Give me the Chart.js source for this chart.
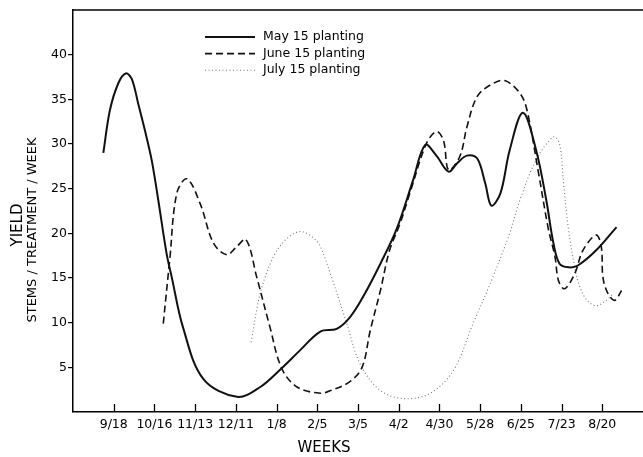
<!DOCTYPE html>
<html>
<head>
<meta charset="utf-8">
<script src="https://cdn.jsdelivr.net/npm/chart.js@4.4.1/dist/chart.umd.min.js"></script>
<style>
  html, body { margin: 0; padding: 0; background: #fff; }
  #wrap { width: 643px; height: 457px; position: relative; }
</style>
</head>
<body>
<div id="wrap"><canvas id="yieldChart"></canvas></div>
<script>
// x is in weeks, 9/18 = week 4
const tickWeeks = [4, 8, 12, 16, 20, 24, 28, 32, 36, 40, 44, 48, 52];
const tickLabels = ["9/18", "10/16", "11/13", "12/11", "1/8", "2/5", "3/5", "4/2", "4/30", "5/28", "6/25", "7/23", "8/20"];
const yTicks = [5, 10, 15, 20, 25, 30, 35, 40];

const mayWeeks = [2.98, 3.63, 4.45, 5.18, 5.77, 6.41, 7.07, 7.73, 8.38, 9.2, 9.7, 10.8, 12.8, 16.1, 18.4, 20.5, 22.3, 24.3, 25.9, 27.2, 28.5, 30.2, 31.8, 33.4, 34.6, 35.7, 36.9, 37.7, 38.7, 39.7, 40.5, 41.1, 42.0, 42.9, 44.2, 45.5, 46.5, 47.2, 47.8, 48.7, 49.6, 51.4, 53.4];
const mayYield = [29.0, 33.8, 36.8, 37.9, 37.3, 34.5, 31.5, 28.2, 23.7, 17.7, 15.1, 9.5, 3.7, 1.7, 2.8, 4.9, 6.9, 9.0, 9.3, 10.6, 12.9, 16.6, 20.5, 25.9, 29.9, 28.7, 26.9, 27.8, 28.7, 28.4, 25.6, 23.1, 24.5, 29.3, 33.5, 29.3, 23.7, 18.9, 16.6, 16.2, 16.4, 18.1, 20.7];

const juneWeeks = [8.87, 9.5, 10.2, 11.2, 12.5, 13.8, 15.1, 16.0, 17.0, 18.05, 19.35, 20.5, 22.0, 24.3, 25.3, 27.2, 28.4, 29.2, 30.2, 31.1, 32.1, 33.1, 34.7, 35.7, 36.4, 36.9, 38.0, 38.7, 39.7, 41.0, 42.4, 43.9, 44.6, 45.7, 46.7, 47.35, 47.7, 48.3, 49.3, 50.1, 51.4, 51.9, 52.06, 52.5, 53.2, 53.9];
const juneYield = [9.9, 17.0, 24.5, 26.1, 23.3, 18.9, 17.6, 18.4, 19.3, 15.1, 9.5, 4.9, 2.8, 2.1, 2.4, 3.4, 5.0, 9.1, 13.6, 18.1, 21.0, 24.5, 30.0, 31.4, 30.4, 27.1, 28.6, 31.9, 35.3, 36.6, 37.1, 35.7, 33.8, 27.0, 20.5, 17.4, 14.7, 13.8, 15.5, 18.1, 19.8, 18.5, 15.1, 13.4, 12.5, 13.6];

const julyWeeks = [17.5, 18.4, 19.7, 21.0, 22.3, 23.5, 24.3, 25.4, 26.9, 28.2, 30.2, 32.6, 35.1, 37.4, 39.3, 41.0, 42.9, 43.9, 45.5, 47.2, 47.8, 48.2, 48.65, 49.3, 49.8, 50.5, 51.4, 52.4, 53.1];
const julyYield = [7.8, 13.3, 17.4, 19.4, 20.2, 19.6, 18.5, 15.1, 9.9, 5.4, 2.4, 1.5, 2.1, 4.7, 9.9, 14.4, 20.0, 23.7, 28.2, 30.8, 30.0, 25.6, 20.7, 16.2, 14.0, 12.5, 11.9, 12.5, 13.3];

const FONT = "'DejaVu Sans', sans-serif";

function toPoints(xs, ys) {
  return xs.map((x, i) => ({ x: x, y: ys[i] }));
}

// top border, inward x ticks, legend and axis titles
const extras = {
  id: "extras",
  afterDraw(chart) {
    const ctx = chart.ctx;
    const area = chart.chartArea;
    const xScale = chart.scales.x;
    ctx.save();
    ctx.strokeStyle = "#000";
    ctx.lineWidth = 1.5;
    ctx.beginPath();
    ctx.moveTo(area.left, area.top);
    ctx.lineTo(area.right, area.top);
    ctx.stroke();

    ctx.lineWidth = 1.3;
    tickWeeks.forEach(w => {
      const px = Math.round(xScale.getPixelForValue(w)) + 0.5;
      ctx.beginPath();
      ctx.moveTo(px, area.bottom);
      ctx.lineTo(px, area.bottom - 8);
      ctx.stroke();
    });

    // legend
    ctx.font = "12.5px " + FONT;
    ctx.fillStyle = "#000";
    ctx.textBaseline = "middle";
    chart.data.datasets.forEach((ds, i) => {
      const y = 37 + i * 16.6;
      ctx.strokeStyle = ds.borderColor;
      ctx.lineWidth = ds.borderWidth;
      ctx.setLineDash(ds.borderDash || []);
      ctx.beginPath();
      ctx.moveTo(205, y);
      ctx.lineTo(255, y);
      ctx.stroke();
      ctx.setLineDash([]);
      ctx.fillText(ds.label, 263, y);
    });

    // axis titles
    ctx.textAlign = "center";
    ctx.font = "15px " + FONT;
    ctx.fillText("WEEKS", 324, 448);
    ctx.translate(18, 225);
    ctx.rotate(-Math.PI / 2);
    ctx.fillText("YIELD", 0, 0);
    ctx.rotate(Math.PI / 2);
    ctx.translate(15, 5);
    ctx.rotate(-Math.PI / 2);
    ctx.font = "13px " + FONT;
    ctx.fillText("STEMS / TREATMENT / WEEK", 0, 0);
    ctx.restore();
  }
};

new Chart(document.getElementById("yieldChart"), {
  type: "line",
  data: {
    datasets: [
      {
        label: "May 15 planting",
        data: toPoints(mayWeeks, mayYield),
        borderColor: "#111",
        borderWidth: 2,
        pointRadius: 0,
        tension: 0.35
      },
      {
        label: "June 15 planting",
        data: toPoints(juneWeeks, juneYield),
        borderColor: "#111",
        borderWidth: 1.6,
        borderDash: [7, 4],
        pointRadius: 0,
        tension: 0.35
      },
      {
        label: "July 15 planting",
        data: toPoints(julyWeeks, julyYield),
        borderColor: "#777",
        borderWidth: 1.1,
        borderDash: [1, 2.5],
        pointRadius: 0,
        tension: 0.35
      }
    ]
  },
  options: {
    responsive: true,
    maintainAspectRatio: false,
    animation: false,
    layout: { padding: { top: 10, left: 0, right: 0, bottom: 0 } },
    plugins: {
      legend: { display: false },
      tooltip: { enabled: false }
    },
    scales: {
      x: {
        type: "linear",
        min: 0,
        max: 56,
        afterBuildTicks: s => { s.ticks = tickWeeks.map(v => ({ value: v })); },
        afterFit: s => { s.height = 45; },
        grid: { drawOnChartArea: false, drawTicks: false },
        border: { display: true, color: "#000", width: 1.5 },
        ticks: {
          color: "#000",
          font: { family: FONT, size: 12.5 },
          padding: 5,
          maxRotation: 0,
          autoSkip: false,
          callback: v => tickLabels[tickWeeks.indexOf(v)] || ""
        }
      },
      y: {
        min: 0,
        max: 45,
        afterBuildTicks: s => { s.ticks = yTicks.map(v => ({ value: v })); },
        afterFit: s => { s.width = 73; },
        grid: { drawOnChartArea: false, drawTicks: true, tickLength: 5, color: "#000", lineWidth: 1.2 },
        border: { display: true, color: "#000", width: 1.5 },
        ticks: {
          color: "#000",
          font: { family: FONT, size: 12.5 },
          padding: 1
        }
      }
    }
  },
  plugins: [extras]
});
</script>
</body>
</html>
